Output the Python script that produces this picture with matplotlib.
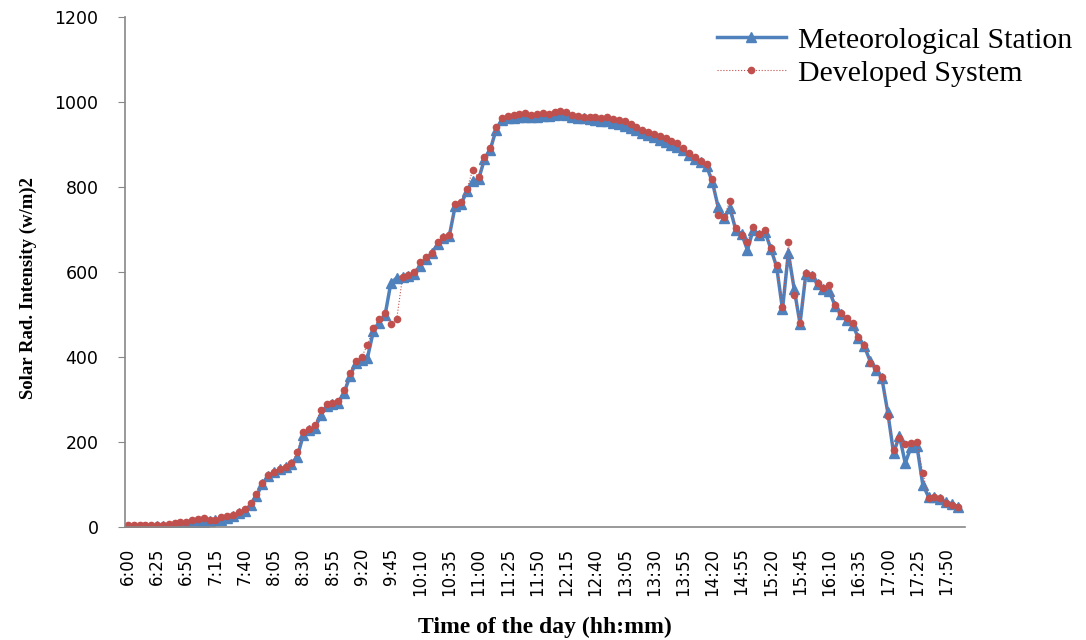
import numpy as np
import matplotlib.pyplot as plt

# tick labels every 5 samples (Excel category axis)
tick_labels = ['6:00', '6:25', '6:50', '7:15', '7:40', '8:05', '8:30', '8:55', '9:20', '9:45',
               '10:10', '10:35', '11:00', '11:25', '11:50', '12:15', '12:40', '13:05', '13:30',
               '13:55', '14:20', '14:55', '15:20', '15:45', '16:10', '16:35', '17:00', '17:25',
               '17:50']

met_station = [0, 0, 0, 0, 0, 1, 1, 2, 3, 4,
               5, 7, 9, 12, 14, 15, 17, 20, 25, 32,
               38, 50, 72, 100, 120, 128, 135, 140, 148, 165,
               215, 228, 232, 262, 285, 290, 292, 315, 355, 385,
               392, 398, 460, 480, 498, 574, 586, 588, 590, 595,
               615, 630, 645, 665, 680, 685, 755, 760, 790, 815,
               818, 865, 888, 935, 958, 962, 963, 965, 966, 965,
               966, 968, 967, 970, 972, 970, 966, 963, 962, 960,
               958, 955, 955, 952, 948, 945, 940, 935, 928, 922,
               918, 912, 906, 900, 895, 888, 876, 866, 858, 850,
               812, 753, 727, 750, 700, 690, 652, 700, 688, 695,
               655, 612, 512, 645, 560, 478, 596, 590, 572, 560,
               555, 520, 500, 488, 476, 444, 425, 390, 370, 350,
               270, 174, 214, 150, 188, 190, 99, 70, 70, 66,
               58, 54, 47]

dev_system = [3, 3, 3, 4, 4, 5, 5, 6, 8, 10,
              12, 15, 18, 21, 17, 16, 22, 25, 28, 35,
              42, 55, 78, 103, 122, 130, 136, 141, 150, 176,
              222, 230, 240, 275, 288, 292, 295, 322, 362, 390,
              400, 428, 468, 490, 503, 478, 489, 588, 593, 600,
              624, 635, 645, 670, 683, 688, 760, 765, 795, 840,
              824, 871, 892, 941, 962, 968, 970, 972, 975, 970,
              973, 975, 972, 978, 980, 976, 970, 968, 966, 965,
              964, 962, 965, 960, 958, 955, 948, 942, 935, 930,
              925, 920, 915, 908, 903, 892, 880, 872, 862, 855,
              820, 734, 730, 767, 703, 687, 671, 706, 690, 699,
              657, 616, 518, 671, 546, 480, 598, 593, 574, 562,
              569, 522, 503, 492, 480, 447, 428, 386, 374, 353,
              260, 180, 210, 195, 198, 200, 127, 68, 71, 68,
              56, 52, 47]

x = np.arange(len(met_station))

fig = plt.figure(figsize=(10.86, 6.4), dpi=100)
ax = fig.add_axes([0.115, 0.177, 0.774, 0.796])

ax.plot(x, met_station, color='#4F81BD', lw=2.5, marker='^', ms=7,
        label='Meteorological Station')
ax.plot(x, dev_system, color='#C0504D', lw=0.8, ls=':', marker='o', ms=4.5,
        label='Developed System')

ax.set_xlim(-0.5, 143.3)
ax.set_ylim(0, 1200)
ax.set_yticks(range(0, 1201, 200))
ax.set_xticks(x[::5])
ax.set_xticklabels(tick_labels, rotation=90, fontsize=12)
ax.tick_params(axis='y', labelsize=12.5, length=5, pad=14, color='#888888')
ax.tick_params(axis='x', length=0, pad=15)

for s in ['top', 'right']:
    ax.spines[s].set_visible(False)
for s in ['left', 'bottom']:
    ax.spines[s].set_color('#888888')
    ax.spines[s].set_linewidth(1.2)

ax.set_ylabel('Solar Rad. Intensity (w/m)2', family='Liberation Serif',
              fontweight='bold', fontsize=13.5)
ax.yaxis.set_label_coords(-0.105, 0.469)
ax.set_xlabel('Time of the day (hh:mm)', family='Liberation Serif',
              fontweight='bold', fontsize=17)
ax.xaxis.set_label_coords(0.5, -0.176)

ax.legend(loc='upper left', bbox_to_anchor=(717 / 1086, 1 - 27 / 640),
          bbox_transform=fig.transFigure, frameon=False, borderpad=0,
          borderaxespad=0, prop={'family': 'Liberation Serif', 'size': 21.5},
          handlelength=2.3, handletextpad=0.42, labelspacing=0.2)

fig.savefig('out.png')
